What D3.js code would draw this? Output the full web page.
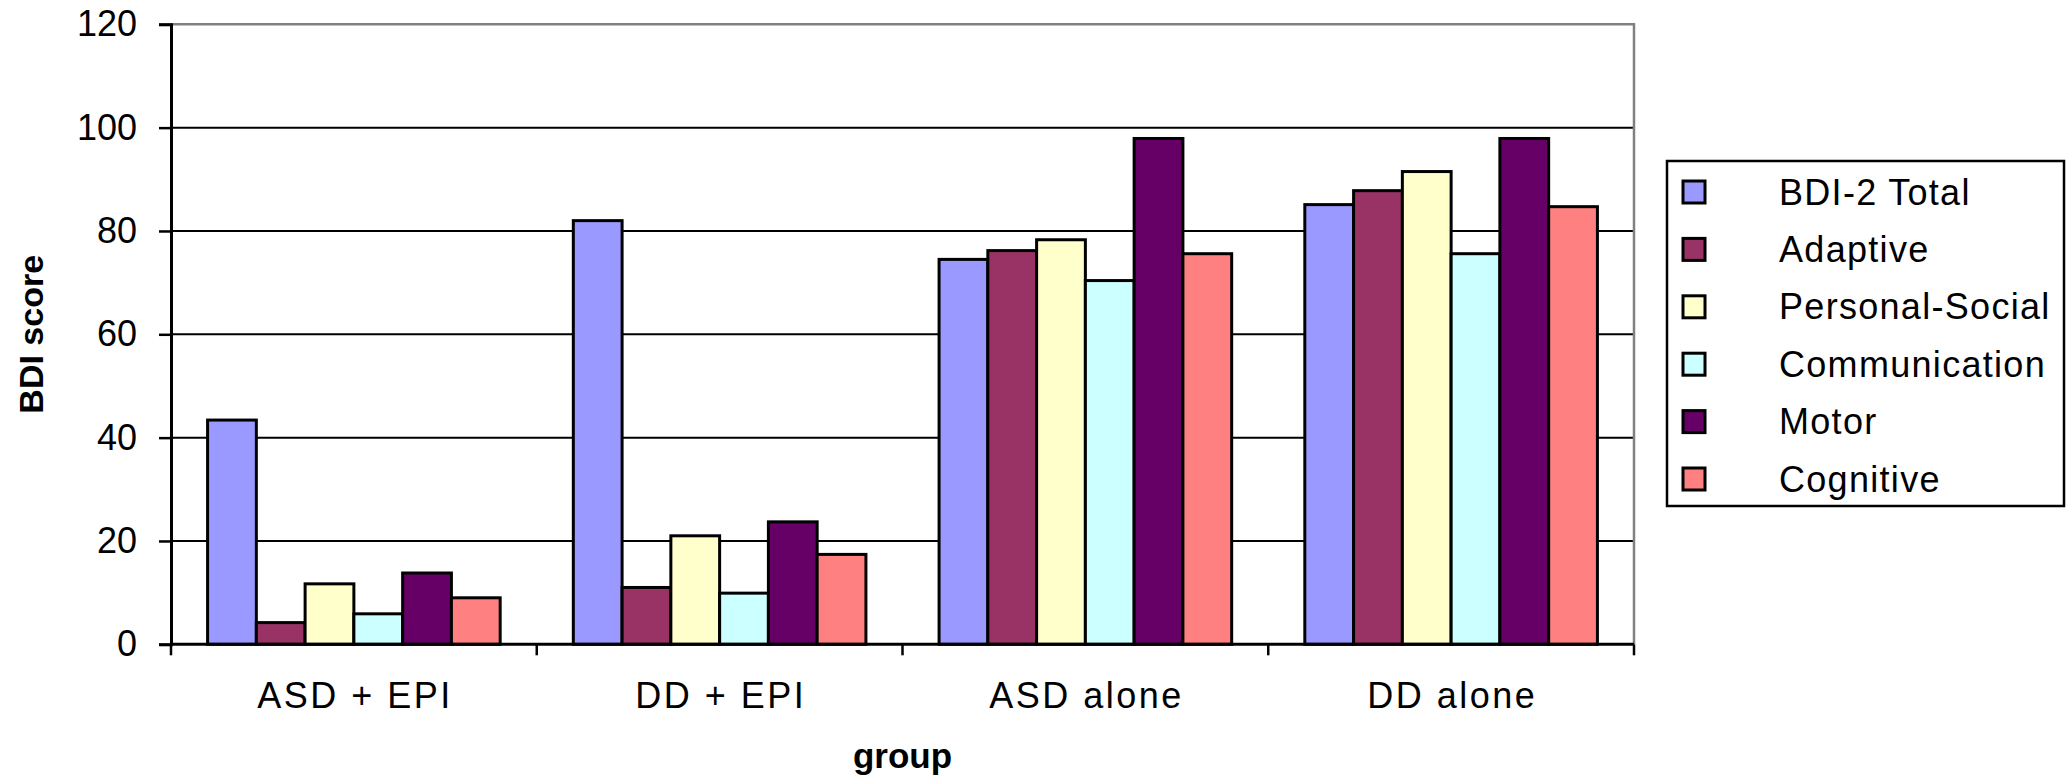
<!DOCTYPE html>
<html>
<head>
<meta charset="utf-8">
<script src="https://cdn.jsdelivr.net/npm/d3@7"></script>
<style>
  html, body { margin: 0; padding: 0; background: #fff; }
  svg { display: block; }
  text { font-family: "Liberation Sans", Arial, sans-serif; fill: #000; }
</style>
</head>
<body>
<script>
// Groups along the x axis
const groups = ["ASD + EPI", "DD + EPI", "ASD alone", "DD alone"];

// BDI-2 domains (one bar per domain inside each group)
const domains = ["BDI-2 Total", "Adaptive", "Personal-Social", "Communication", "Motor", "Cognitive"];

// Scores per domain, in group order
const bdiTotal       = [43.4, 82.0, 74.5, 85.1];
const adaptive       = [4.2, 11.0, 76.2, 87.8];
const personalSocial = [11.7, 21.0, 78.3, 91.5];
const communication  = [5.9, 9.9, 70.4, 75.6];
const motor          = [13.8, 23.7, 97.9, 97.9];
const cognitive      = [9.0, 17.4, 75.6, 84.7];

const seriesValues = [bdiTotal, adaptive, personalSocial, communication, motor, cognitive];
const colors = ["#9999FF", "#993366", "#FFFFCC", "#CCFFFF", "#660066", "#FF8080"];

const yTicks = [0, 20, 40, 60, 80, 100, 120];
const yTitle = "BDI score";
const xTitle = "group";

const W = 2066, H = 778;
const plot = { left: 171, right: 1634, top: 24.3, bottom: 644.3 };

const svg = d3.select("body").append("svg").attr("width", W).attr("height", H);

const x0 = d3.scaleBand().domain(groups).range([plot.left, plot.right]).padding(0);
const bw = x0.bandwidth();
// gap of 150% of a bar width between clusters
const x1 = d3.scaleBand().domain(domains).range([bw * 0.1, bw * 0.9]).padding(0);
const y = d3.scaleLinear().domain([0, 120]).range([plot.bottom, plot.top]);

// horizontal gridlines
svg.append("g")
  .selectAll("line")
  .data(yTicks.filter(t => t > 0 && t < 120))
  .join("line")
  .attr("x1", plot.left).attr("x2", plot.right)
  .attr("y1", d => y(d)).attr("y2", d => y(d))
  .attr("stroke", "#000").attr("stroke-width", 2);

// plot frame: grey top and right edges
svg.append("path")
  .attr("d", `M${plot.left},${y(120)}H${plot.right}V${plot.bottom}`)
  .attr("fill", "none").attr("stroke", "#808080").attr("stroke-width", 2.5);

// bars
const data = [];
groups.forEach((g, gi) => {
  domains.forEach((d, di) => data.push({ g, d, v: seriesValues[di][gi], c: colors[di] }));
});
svg.append("g")
  .selectAll("rect")
  .data(data)
  .join("rect")
  .attr("x", d => x0(d.g) + x1(d.d))
  .attr("y", d => y(d.v))
  .attr("width", x1.bandwidth())
  .attr("height", d => y(0) - y(d.v))
  .attr("fill", d => d.c)
  .attr("stroke", "#000").attr("stroke-width", 3);

// y axis
const yAxis = d3.axisLeft(y).tickValues(yTicks).tickSize(12).tickPadding(22).tickFormat(d3.format("d"));
const gy = svg.append("g").attr("transform", `translate(${plot.left},0)`).call(yAxis);
gy.select(".domain").attr("stroke", "#000").attr("stroke-width", 3);
gy.selectAll(".tick line").attr("stroke", "#000").attr("stroke-width", 2.5);
gy.selectAll(".tick text").attr("font-size", 36).attr("font-family", "Liberation Sans, Arial, sans-serif").attr("fill", "#000");

// x axis: ticks at group boundaries, labels at group centres
const gx = svg.append("g").attr("transform", `translate(0,${plot.bottom})`);
gx.append("line").attr("x1", plot.left).attr("x2", plot.right)
  .attr("stroke", "#000").attr("stroke-width", 3);
const boundaries = groups.map(g => x0(g)).concat([plot.right]);
gx.selectAll("line.tk").data(boundaries).join("line").attr("class", "tk")
  .attr("x1", d => d).attr("x2", d => d).attr("y1", 0).attr("y2", 11)
  .attr("stroke", "#000").attr("stroke-width", 2.5);
gx.selectAll("text").data(groups).join("text")
  .attr("x", d => x0(d) + bw / 2 + 1.2).attr("y", 63.5)
  .attr("text-anchor", "middle").attr("font-size", 36).attr("letter-spacing", 2.5)
  .text(d => d);

// axis titles
svg.append("text")
  .attr("transform", `translate(43,${(plot.top + plot.bottom) / 2}) rotate(-90)`)
  .attr("text-anchor", "middle").attr("font-size", 34).attr("font-weight", "bold")
  .text(yTitle);
svg.append("text")
  .attr("x", (plot.left + plot.right) / 2).attr("y", 768)
  .attr("text-anchor", "middle").attr("font-size", 35).attr("font-weight", "bold")
  .text(xTitle);

// legend
const lg = svg.append("g");
lg.append("rect").attr("x", 1667).attr("y", 161).attr("width", 397).attr("height", 345)
  .attr("fill", "#fff").attr("stroke", "#000").attr("stroke-width", 2.5);
const rowY = d3.scalePoint().domain(domains).range([192, 479]);
const item = lg.selectAll("g.item").data(domains).join("g").attr("class", "item")
  .attr("transform", d => `translate(0,${rowY(d)})`);
item.append("rect").attr("x", 1683).attr("y", -11).attr("width", 22).attr("height", 22)
  .attr("fill", (d, i) => colors[i]).attr("stroke", "#000").attr("stroke-width", 3);
item.append("text").attr("x", 1779).attr("y", 0).attr("dy", "0.35em")
  .attr("font-size", 36).attr("letter-spacing", 1.3)
  .text(d => d);
</script>
</body>
</html>
